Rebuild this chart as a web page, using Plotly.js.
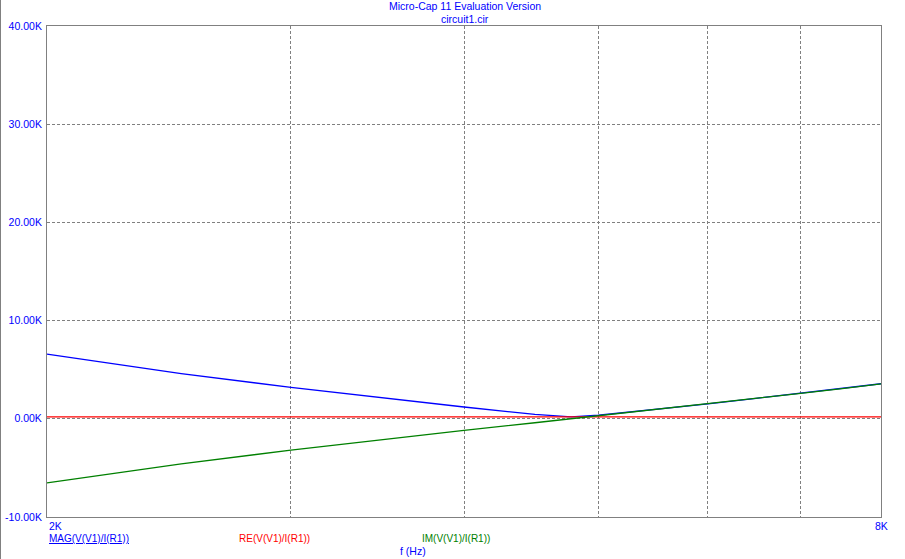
<!DOCTYPE html>
<html>
<head>
<meta charset="utf-8">
<script src="https://cdn.plot.ly/plotly-3.0.1.min.js"></script>
<style>
  html, body { margin: 0; padding: 0; background: #fff; }
  #chart { width: 905px; height: 559px; }
</style>
</head>
<body>
<div id="chart"></div>
<script>
// Frequency (Hz) and impedance values (ohms)
const freq = [2000, 2500, 3000, 3500, 4000, 4500, 4780, 5000, 5500, 6000, 6500, 7000, 7500, 8000];
const magZ = [6580, 4600, 3200, 2110, 1200, 450, 200, 360, 950, 1530, 2080, 2600, 3090, 3570];
const reZ  = [200, 200, 200, 200, 200, 200, 200, 200, 200, 200, 200, 200, 200, 200];
const imZ  = [-6520, -4590, -3190, -2100, -1180, -400, 0, 300, 930, 1520, 2070, 2590, 3080, 3560];

const seriesNames = ["MAG(V(V1)/I(R1))", "RE(V(V1)/I(R1))", "IM(V(V1)/I(R1))"];
const yTickVals = [-10000, 0, 10000, 20000, 30000, 40000];
const yTickText = ["-10.00K", "0.00K", "10.00K", "20.00K", "30.00K", "40.00K"];
const xGridVals = [3000, 4000, 5000, 6000, 7000];
const xEndLabels = ["2K", "8K"];
const titleLines = ["Micro-Cap 11 Evaluation Version", "circuit1.cir"];
const xAxisLabel = "f (Hz)";

const FONT = "Liberation Sans, Arial, sans-serif";
const BLUE = "#0000ff";
const GRAY = "#808080";

const traces = [
  { x: freq, y: magZ, name: seriesNames[0], mode: "lines", line: { color: "#0000ff", width: 1.3 } },
  { x: freq, y: reZ,  name: seriesNames[1], mode: "lines", line: { color: "#ff0000", width: 1.3 } },
  { x: freq, y: imZ,  name: seriesNames[2], mode: "lines", line: { color: "#008000", width: 1.3 } }
];

const annotations = [
  // titles
  { xref: "paper", yref: "paper", x: 0.501, y: 1, yanchor: "bottom", yshift: 12, showarrow: false,
    text: titleLines[0], font: { family: FONT, size: 10.5, color: BLUE } },
  { xref: "paper", yref: "paper", x: 0.501, y: 1, yanchor: "bottom", yshift: -1, showarrow: false,
    text: titleLines[1], font: { family: FONT, size: 10.5, color: BLUE } },
  // x end labels
  { xref: "paper", yref: "paper", x: 0, y: 0, xanchor: "left", yanchor: "top", yshift: -1, showarrow: false,
    text: xEndLabels[0], font: { family: FONT, size: 10.5, color: BLUE } },
  { xref: "paper", yref: "paper", x: 1, y: 0, xanchor: "center", yanchor: "top", yshift: -1, showarrow: false,
    text: xEndLabels[1], font: { family: FONT, size: 10.5, color: BLUE } },
  // series labels
  { xref: "paper", yref: "paper", x: 0, y: 0, xanchor: "left", yanchor: "top", yshift: -14, showarrow: false,
    text: "<u>" + seriesNames[0] + "</u>", font: { family: FONT, size: 10, color: "#0000ff" } },
  { xref: "paper", yref: "paper", x: (274 - 47) / 834, y: 0, xanchor: "center", yanchor: "top", yshift: -14, showarrow: false,
    text: seriesNames[1], font: { family: FONT, size: 10, color: "#ff0000" } },
  { xref: "paper", yref: "paper", x: (456 - 47) / 834, y: 0, xanchor: "center", yanchor: "top", yshift: -14, showarrow: false,
    text: seriesNames[2], font: { family: FONT, size: 10, color: "#008000" } },
  // x axis label
  { xref: "paper", yref: "paper", x: (413 - 47) / 834, y: 0, xanchor: "center", yanchor: "top", yshift: -26, showarrow: false,
    text: xAxisLabel, font: { family: FONT, size: 10.5, color: BLUE } }
];

const layout = {
  width: 905,
  height: 559,
  margin: { l: 47, r: 24, t: 26, b: 42, pad: 0 },
  paper_bgcolor: "#ffffff",
  plot_bgcolor: "#ffffff",
  showlegend: false,
  font: { family: FONT, size: 10.5, color: BLUE },
  xaxis: {
    type: "log",
    range: [Math.log10(2000), Math.log10(8000)],
    tickvals: xGridVals,
    showticklabels: false,
    ticks: "",
    showgrid: true,
    gridcolor: GRAY,
    gridwidth: 1,
    griddash: "3px,2px",
    showline: true,
    linecolor: GRAY,
    linewidth: 1,
    mirror: true,
    zeroline: false,
    fixedrange: true
  },
  yaxis: {
    range: [-10000, 40000],
    tickvals: yTickVals,
    ticktext: yTickText,
    ticks: "",
    ticklabelstandoff: 2,
    tickfont: { family: FONT, size: 10.5, color: BLUE },
    showgrid: true,
    gridcolor: GRAY,
    gridwidth: 1,
    griddash: "3px,2px",
    showline: true,
    linecolor: GRAY,
    linewidth: 1,
    mirror: true,
    zeroline: false,
    fixedrange: true
  },
  annotations: annotations,
  shapes: [
    { type: "line", xref: "paper", yref: "paper",
      x0: (0.5 - 47) / 834, x1: (0.5 - 47) / 834, y0: -42 / 491, y1: 1 + 26 / 491,
      line: { color: GRAY, width: 1 } }
  ]
};

Plotly.newPlot("chart", traces, layout, { displayModeBar: false, staticPlot: true });
</script>
</body>
</html>
